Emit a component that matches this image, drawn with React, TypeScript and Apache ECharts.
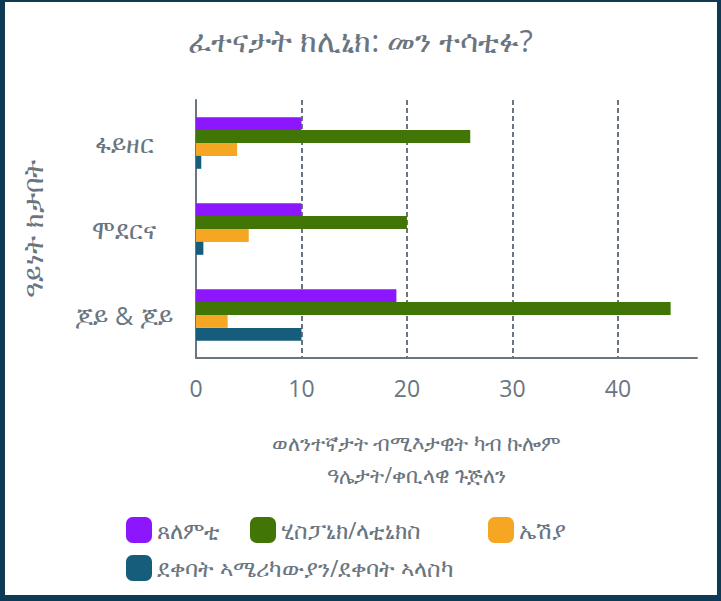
import React, { useEffect, useRef } from "react";
import * as echarts from "echarts";

const titleText = "ፈተናታት ክሊኒክ: መን ተሳቲፉ?";
const categories = ["ፋይዘር", "ሞደርና", "ጆይ & ጆይ"];
const seriesNames = ["ጸለምቲ", "ሂስፓኒክ/ላቲኒክስ", "ኤሽያ", "ደቀባት ኣሜሪካውያን/ደቀባት ኣላስካ"];
const blackValues = [10, 10, 19];
const hispanicValues = [26, 20, 45];
const asianValues = [3.9, 5, 3];
const nativeValues = [0.5, 0.7, 10];
const xTicks = [0, 10, 20, 30, 40];
const xAxisName = "ወለንተኛታት ብሚእታዊት ካብ ኩሎም\nዓሌታት/ቀቢላዊ ጉጅለን";
const yAxisName = "ዓይነት ክታበት";

const colors = ["#8c16fe", "#417505", "#f5a623", "#165d7c"];
const gray = "#6b7580";
const font = "'Open Sans', sans-serif";

export default function App() {
  const ref = useRef<HTMLDivElement>(null);
  useEffect(() => {
    document.body.style.margin = "0";
    const chart = echarts.init(ref.current!, null, { renderer: "svg" });
    const values = [blackValues, hispanicValues, asianValues, nativeValues];
    const legendPos = [
      { left: 126, top: 517 },
      { left: 250, top: 517 },
      { left: 488, top: 517 },
      { left: 126, top: 555 },
    ];
    chart.setOption({
      animation: false,
      backgroundColor: "#ffffff",
      title: {
        text: titleText,
        left: "center",
        top: 19,
        textStyle: { fontFamily: font, fontSize: 31, fontWeight: "normal", color: gray },
      },
      legend: seriesNames.map((n, i) => ({
        data: [n],
        left: legendPos[i].left,
        top: legendPos[i].top,
        itemWidth: 26,
        itemHeight: 26,
        itemGap: 11,
        icon: "roundRect",
        padding: 0,
        textStyle: { fontFamily: font, fontSize: 23, color: gray },
      })),
      grid: { left: 196, right: 24, top: 100, bottom: 243, containLabel: false },
      xAxis: {
        type: "value",
        min: xTicks[0],
        max: 47.5,
        interval: 10,
        name: xAxisName,
        nameLocation: "middle",
        nameGap: 69,
        nameTextStyle: {
          fontFamily: font,
          fontSize: 21,
          lineHeight: 32,
          color: gray,
          padding: [0, 60, 0, 0],
          verticalAlign: "top",
        },
        axisLine: { show: true, lineStyle: { color: gray, width: 2 } },
        axisTick: { show: false },
        axisLabel: {
          fontFamily: font,
          fontSize: 23,
          color: gray,
          margin: 18,
          showMaxLabel: false,
        },
        splitLine: {
          show: true,
          showMinLine: false,
          showMaxLine: false,
          lineStyle: { color: gray, width: 2, type: [5, 3] },
        },
      },
      yAxis: {
        type: "category",
        data: categories,
        inverse: true,
        name: yAxisName,
        nameLocation: "middle",
        nameGap: 150,
        nameRotate: 90,
        nameTextStyle: { fontFamily: font, fontSize: 27, color: gray },
        axisLine: { show: true, lineStyle: { color: gray, width: 2 } },
        axisTick: { show: false },
        axisLabel: { fontFamily: font, fontSize: 25, color: gray, margin: 72, align: "center" },
        splitLine: { show: false },
      },
      series: seriesNames.map((n, i) => ({
        name: n,
        type: "bar",
        data: values[i],
        itemStyle: { color: colors[i] },
        barGap: "0%",
        barCategoryGap: "40%",
      })),
    });
    return () => chart.dispose();
  }, []);
  return (
    <div style={{ position: "fixed", left: 0, top: 0, width: 721, height: 601 }}>
      <div ref={ref} style={{ position: "absolute", left: 0, top: 0, width: 721, height: 601 }} />
      <div
        style={{
          position: "absolute",
          left: 0,
          top: 0,
          width: 721,
          height: 601,
          boxSizing: "border-box",
          borderStyle: "solid",
          borderColor: "#0e3a56",
          borderWidth: "2px 4px 6px 5px",
          pointerEvents: "none",
        }}
      />
    </div>
  );
}
